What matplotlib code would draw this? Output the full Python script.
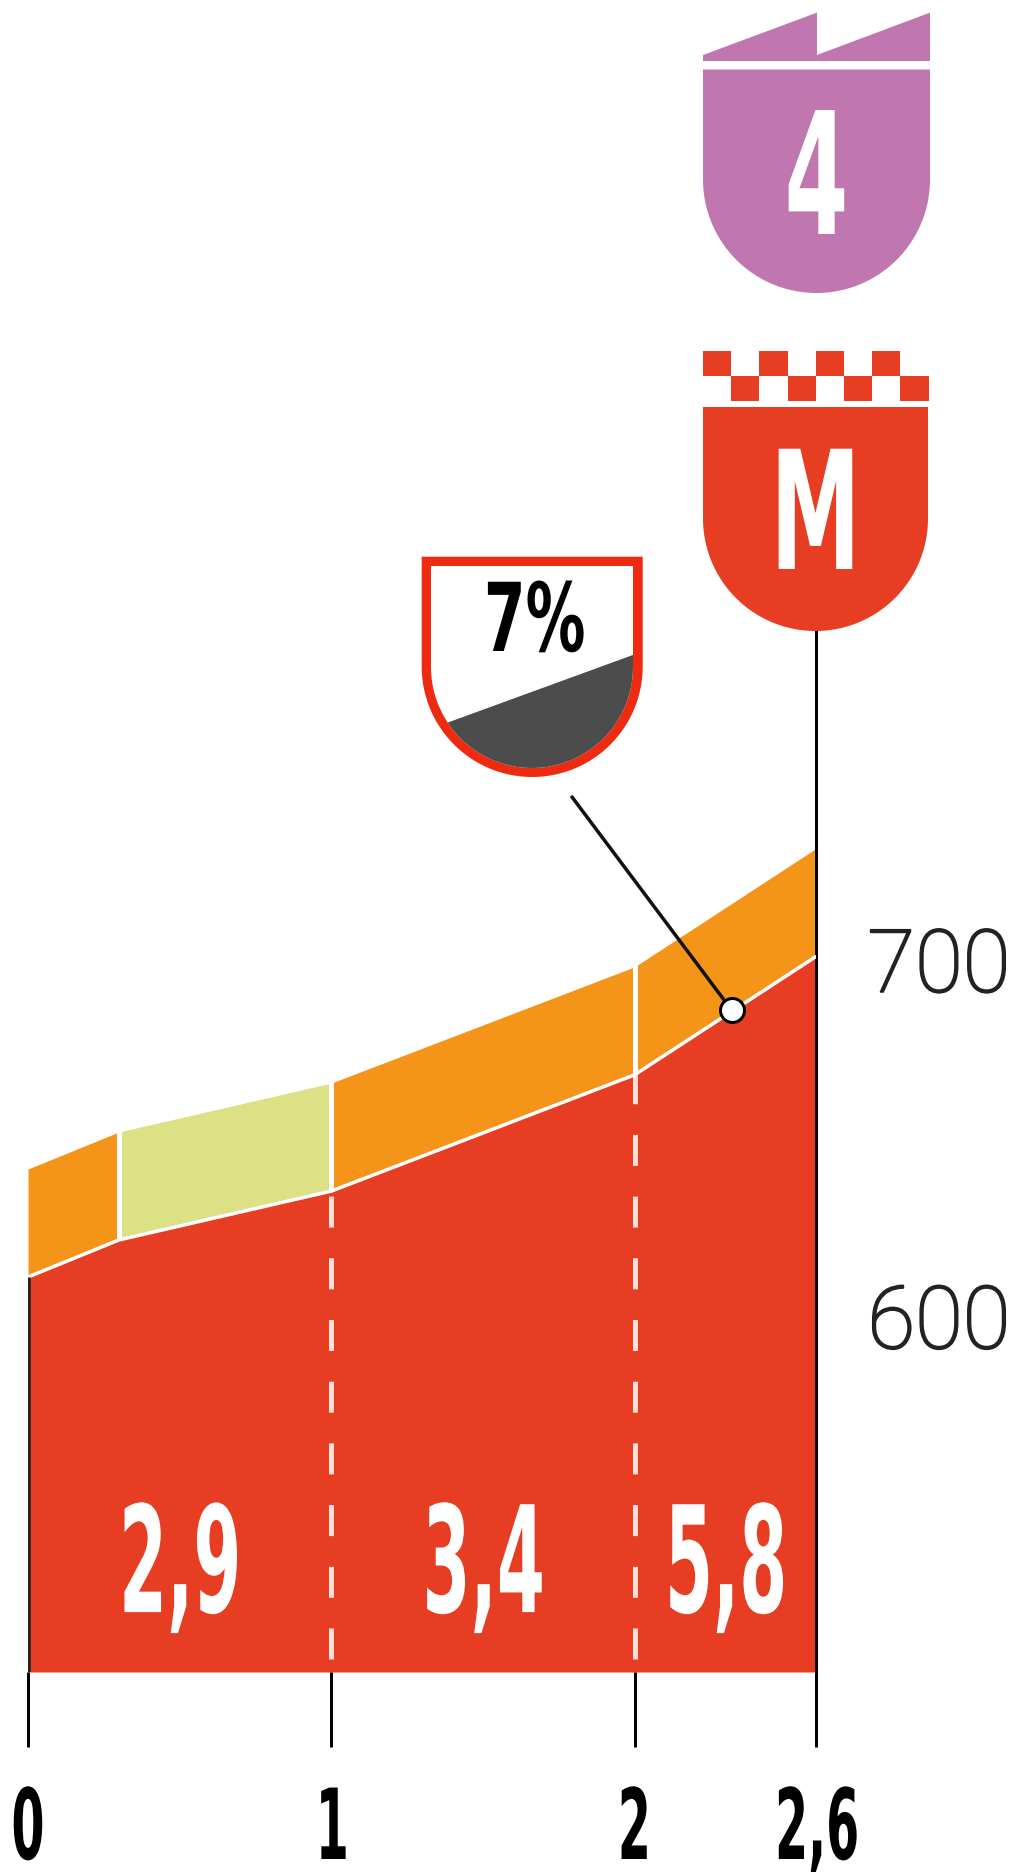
import numpy as np
from matplotlib import pyplot as plt
from matplotlib.patches import PathPatch
from matplotlib.patheffects import AbstractPathEffect, withStroke
from matplotlib.path import Path
from matplotlib.transforms import Affine2D

# profile of the climb
km = [0, 0.3, 1, 2, 2.6]
elevation = [610.8, 621.2, 634.9, 667.5, 700.8]
band_height = 30.3
band_colors = ['#f49419', '#dde185', '#f49419', '#f49419']

# gradient per km
gradient_km = [0.5, 1.5, 2.3]
gradient_labels = ['2,9', '3,4', '5,8']
gradient_y = 516.8

km_ticks = [0, 1, 2, 2.6]
km_tick_labels = ['0', '1', '2', '2,6']
elevation_ticks = [600, 700]
dashed_km = [1, 2]
white_km = [0.3, 1, 2]

steepest_km = 2.32
steepest_elevation = 685.7
steepest_label = '7%'

RED = '#e73d22'
PURPLE = '#c077af'
W, H = 1016, 1872
DPI = 100


def px(v):
    # pixels to points
    return v * 72 / DPI


class Squeeze(AbstractPathEffect):
    # keeps the text real, only narrows the glyphs around their centre
    def __init__(self, sx):
        super().__init__()
        self.sx = sx

    def draw_path(self, renderer, gc, tpath, affine, rgbFace=None):
        box = tpath.get_extents()
        cx = (box.x0 + box.x1) / 2
        squeeze = Affine2D().translate(-cx, 0).scale(self.sx, 1).translate(cx, 0)
        renderer.draw_path(gc, tpath, squeeze + affine, rgbFace)


def shield(x0, x1, top, bottom):
    # flat top, straight sides, half circle at the bottom
    r = (x1 - x0) / 2
    t = np.linspace(0, np.pi, 80)
    xs = x0 + r + r * np.cos(t)
    ys = bottom - r + r * np.sin(t)
    verts = [(x0, top), (x1, top)] + list(zip(xs, ys)) + [(x0, top)]
    return Path(verts, closed=True)


plt.rcParams['font.family'] = ['DejaVu Sans']

fig = plt.figure(figsize=(W / DPI, H / DPI), dpi=DPI, facecolor='white')

left, right, top, bottom = 28, 816.5, 630, 1672
ax = fig.add_axes([left / W, (H - bottom) / H, (right - left) / W, (bottom - top) / H])
ax.set_xlim(0, 2.6)
ax.set_ylim(500, 792.3)
ax.patch.set_visible(False)

for side in ['left', 'top', 'bottom']:
    ax.spines[side].set_visible(False)
ax.spines['right'].set_linewidth(px(3))

# area and the band on top of it
ax.fill_between(km, 500, elevation, color=RED, lw=0, zorder=1)
for i, color in enumerate(band_colors):
    seg_x = km[i:i + 2]
    seg_low = elevation[i:i + 2]
    seg_top = [e + band_height for e in seg_low]
    ax.fill_between(seg_x, seg_low, seg_top, color=color, lw=0, zorder=1)

ax.plot(km, elevation, color='white', lw=px(3.5), zorder=3, solid_capstyle='butt')
surface = np.interp(white_km, km, elevation)
ax.vlines(white_km, surface, surface + band_height + 1, color='white', lw=px(5), zorder=2)

# dashes inside the red area, counted from the bottom up
dash_start = 503.6
for x, surf in zip(dashed_km, np.interp(dashed_km, km, elevation)):
    ax.plot([x, x], [dash_start, surf], color='#fbe3da', lw=px(5), zorder=2,
            linestyle=(0, (31 / 5, 30.7 / 5)))

ax.vlines(0, 500, elevation[0], color='#222222', lw=px(4.5), zorder=4)

for x, label in zip(gradient_km, gradient_labels):
    ax.text(x, gradient_y, label, color='white', ha='center', va='baseline',
            fontsize=px(148), fontweight='bold', path_effects=[Squeeze(0.467)], zorder=5)

# axes
ax.set_xticks(km_ticks, km_tick_labels)
ax.tick_params(axis='x', length=px(75), width=px(3), pad=px(37), color='black')
for label in ax.get_xticklabels():
    label.set_fontsize(px(98))
    label.set_fontweight('bold')
    label.set_path_effects([Squeeze(0.485)])

ax.yaxis.tick_right()
ax.set_yticks(elevation_ticks, [str(v) for v in elevation_ticks])
ax.tick_params(axis='y', length=0, pad=px(51))
for label in ax.get_yticklabels():
    label.set_family(['Roboto', 'DejaVu Sans'])
    label.set_fontweight('light')
    label.set_fontsize(px(87))
    label.set_color('#222222')
    label.set_path_effects([withStroke(linewidth=px(2), foreground='#222222')])

# steepest point and its leader
ax.annotate('', xy=(steepest_km, steepest_elevation), xycoords='data',
            xytext=(572, H - 797), textcoords='figure pixels',
            arrowprops=dict(arrowstyle='-', color='#111111', lw=px(3.5), shrinkA=0, shrinkB=0),
            zorder=6)
ax.plot([steepest_km], [steepest_elevation], 'o', ms=px(24), mfc='white', mec='black',
        mew=px(3), zorder=7, clip_on=False)

# the icons live in a pixel axes over the whole figure
ov = fig.add_axes([0, 0, 1, 1])
ov.set_xlim(0, W)
ov.set_ylim(H, 0)
ov.axis('off')
ov.patch.set_visible(False)

# category 4 badge
ov.add_patch(PathPatch(shield(703, 930, 69.5, 293), fc=PURPLE, lw=0))
ov.add_patch(PathPatch(Path([(703, 55), (817, 12.6), (817, 55), (930, 12.6), (930, 61), (703, 61), (703, 55)],
                            closed=True), fc=PURPLE, lw=0))
ov.text(816.5, 234, '4', color='white', ha='center', va='baseline',
        fontsize=px(170), fontweight='bold', path_effects=[Squeeze(0.54)])

# finish badge
ov.add_patch(PathPatch(shield(703, 928, 407, 631), fc=RED, lw=0))
for col in range(8):
    row_top = 351 if col % 2 == 0 else 376
    ov.fill_between([703 + col * 28.2, 703 + (col + 1) * 28.2], row_top, row_top + 25, color=RED, lw=0)
ov.text(815.5, 569, 'M', color='white', ha='center', va='baseline',
        fontsize=px(165), fontweight='bold', path_effects=[Squeeze(0.55)])

# gradient badge
ov.add_patch(PathPatch(shield(421.7, 642.7, 556.7, 777), fc='#ee2a10', lw=0))
inner = PathPatch(shield(431, 633, 566, 768), fc='white', lw=0)
ov.add_patch(inner)
slope = PathPatch(Path([(440, 725.4), (640, 652.4), (640, 780), (440, 780), (440, 725.4)], closed=True),
                  fc='#4d4c4c', lw=0)
ov.add_patch(slope)
slope.set_clip_path(inner)
ov.text(534, 651, steepest_label, color='black', ha='center', va='baseline',
        fontsize=px(95), fontweight='bold', path_effects=[Squeeze(0.63)])

fig.savefig('out.png', dpi=DPI)
